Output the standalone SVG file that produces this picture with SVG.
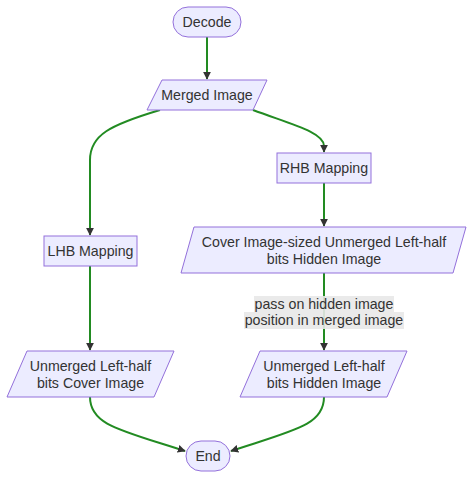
<svg xmlns="http://www.w3.org/2000/svg" width="474" height="478" viewBox="0 0 474 478">
<style>
.n{fill:#ECECFF;stroke:#9370DB;stroke-width:1}
.t{font-family:"Liberation Sans",Arial,sans-serif;font-size:14.2px;fill:#333;text-anchor:middle;dominant-baseline:central}
.e{fill:none;stroke:#228B22;stroke-width:2}
.lb{fill:#E8E8E8;opacity:0.9}
</style>
<defs>
<marker id="ah" viewBox="0 0 10 10" refX="9" refY="5" markerWidth="8" markerHeight="8" markerUnits="userSpaceOnUse" orient="auto">
<path d="M0,0 L10,5 L0,10 z" fill="#333"/>
</marker>
</defs>
<rect width="474" height="478" fill="#fff"/>
<g id="edges">
<path class="e" d="M207,37 V79" marker-end="url(#ah)"/>
<path class="e" d="M160,110 C110,125 90,135 90,160 V235" marker-end="url(#ah)"/>
<path class="e" d="M253,110 C290,124 324,132 324,146 V152" marker-end="url(#ah)"/>
<path class="e" d="M324,183 V226" marker-end="url(#ah)"/>
<path class="e" d="M324,273 V350" marker-end="url(#ah)"/>
<path class="e" d="M90,266 V350" marker-end="url(#ah)"/>
<path class="e" d="M90,397 C90,425 120,430 185,451" marker-end="url(#ah)"/>
<path class="e" d="M324,397 C324,425 295,430 231,451" marker-end="url(#ah)"/>
</g>
<g id="edgeLabel">
<rect class="lb" x="254" y="296" width="140" height="16"/>
<rect class="lb" x="244" y="312" width="160" height="17"/>
<text class="t" x="324" y="304">pass on hidden image</text>
<text class="t" x="324" y="320">position in merged image</text>
</g>
<g id="decode">
<rect class="n" x="173" y="7" width="68" height="30" rx="15"/>
<text class="t" x="207" y="22">Decode</text>
</g>
<g id="merged">
<polygon class="n" points="162,80 267,80 253,110 147,110"/>
<text class="t" x="207" y="95">Merged Image</text>
</g>
<g id="rhb">
<rect class="n" x="277" y="153" width="94" height="30"/>
<text class="t" x="324" y="168">RHB Mapping</text>
</g>
<g id="lhb">
<rect class="n" x="44" y="236" width="93" height="30"/>
<text class="t" x="90.5" y="251">LHB Mapping</text>
</g>
<g id="cover">
<polygon class="n" points="194,227 466,227 453,273 181,273"/>
<text class="t" x="324" y="242">Cover Image-sized Unmerged Left-half</text>
<text class="t" x="324" y="259">bits Hidden Image</text>
</g>
<g id="ucover">
<polygon class="n" points="27,351 174,351 154,397 7,397"/>
<text class="t" x="90.5" y="366">Unmerged Left-half</text>
<text class="t" x="90.5" y="383">bits Cover Image</text>
</g>
<g id="uhidden">
<polygon class="n" points="260,351 407,351 387,397 240,397"/>
<text class="t" x="324" y="366">Unmerged Left-half</text>
<text class="t" x="324" y="383">bits Hidden Image</text>
</g>
<g id="end">
<rect class="n" x="186" y="441" width="44" height="30" rx="15"/>
<text class="t" x="208" y="456">End</text>
</g>
</svg>
